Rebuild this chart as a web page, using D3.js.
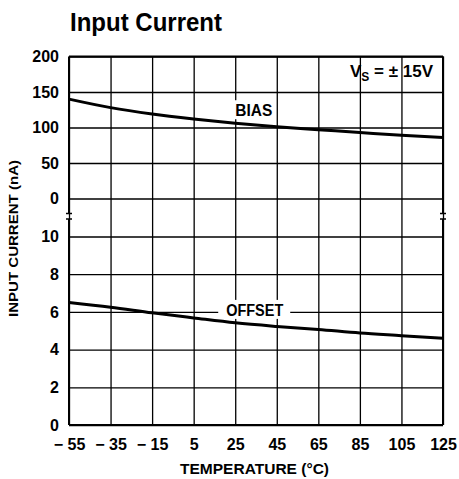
<!DOCTYPE html>
<html>
<head>
<meta charset="utf-8">
<script src="https://cdn.jsdelivr.net/npm/d3@7"></script>
<style>
  body { margin: 0; background: #fff; }
  svg { display: block; font-family: "Liberation Sans", Arial, sans-serif; font-weight: bold; }
</style>
</head>
<body>
<div id="chart"></div>
<script>
// Chart data
var temps = [-55, -35, -15, 5, 25, 45, 65, 85, 105, 125];
var biasNA = [140, 128, 119, 112, 106, 101, 97, 93, 89, 86];
var offsetNA = [6.5, 6.25, 5.95, 5.68, 5.42, 5.23, 5.07, 4.88, 4.74, 4.6];
var upperTicks = [0, 50, 100, 150, 200];
var lowerTicks = [0, 2, 4, 6, 8, 10];

var svgWidth = 459;
var svgHeight = 479;

// plot box
var left = 69, right = 443;
var upperTop = 56.5, upperBottom = 198.5;
var lowerTop = 236.5, lowerBottom = 425;
var breakY = [213.5, 219];

var svg = d3.select("#chart")
  .append("svg")
  .attr("width", svgWidth)
  .attr("height", svgHeight);

// scales
var x = d3.scaleLinear().domain([-55, 125]).range([left, right]);
var yUpper = d3.scaleLinear().domain([0, 200]).range([upperBottom, upperTop]);
var yLower = d3.scaleLinear().domain([0, 10]).range([lowerBottom, lowerTop]);

// title
svg.append("text")
  .attr("x", 70)
  .attr("y", 31)
  .attr("font-size", 26)
  .attr("textLength", 152)
  .attr("lengthAdjust", "spacingAndGlyphs")
  .text("Input Current");

// x axis + vertical grid
var xAxis = d3.axisBottom(x)
  .tickValues(temps)
  .tickSizeInner(-(lowerBottom - upperTop))
  .tickSizeOuter(0)
  .tickPadding(14)
  .tickFormat(d => d < 0 ? "\u2212 " + Math.abs(d) : d);

var xg = svg.append("g")
  .attr("transform", `translate(0, ${lowerBottom})`)
  .call(xAxis);

// upper y axis + grid
var yUpperAxis = d3.axisLeft(yUpper)
  .tickValues(upperTicks)
  .tickSizeInner(-(right - left))
  .tickSizeOuter(0)
  .tickPadding(10);

var yug = svg.append("g")
  .attr("transform", `translate(${left}, 0)`)
  .call(yUpperAxis);

// lower y axis + grid
var yLowerAxis = d3.axisLeft(yLower)
  .tickValues(lowerTicks)
  .tickSizeInner(-(right - left))
  .tickSizeOuter(0)
  .tickPadding(10);

var ylg = svg.append("g")
  .attr("transform", `translate(${left}, 0)`)
  .call(yLowerAxis);

[xg, yug, ylg].forEach(function(g) {
  g.select(".domain").remove();
  g.selectAll(".tick line").attr("stroke", "#000").attr("stroke-width", 1.3);
  g.selectAll(".tick text")
    .attr("fill", "#000")
    .attr("font-size", 16)
    .attr("font-family", "'Liberation Sans', Arial, sans-serif")
    .attr("font-weight", "bold");
});

// frame, with breaks on left and right sides
var frame = svg.append("g")
  .attr("stroke", "#000")
  .attr("stroke-width", 2)
  .attr("fill", "none");

frame.append("line").attr("x1", left).attr("x2", right).attr("y1", upperTop).attr("y2", upperTop);
frame.append("line").attr("x1", left).attr("x2", right).attr("y1", lowerBottom).attr("y2", lowerBottom);
[left, right].forEach(function(xx) {
  frame.append("line").attr("x1", xx).attr("x2", xx).attr("y1", upperTop).attr("y2", breakY[0]);
  frame.append("line").attr("x1", xx).attr("x2", xx).attr("y1", breakY[1]).attr("y2", lowerBottom);
  frame.append("line").attr("x1", xx - 3).attr("x2", xx + 3).attr("y1", breakY[0]).attr("y2", breakY[0]).attr("stroke-width", 1.5);
  frame.append("line").attr("x1", xx - 3).attr("x2", xx + 3).attr("y1", breakY[1]).attr("y2", breakY[1]).attr("stroke-width", 1.5);
});

// white boxes behind curve labels
svg.append("rect")
  .attr("x", x(25) - 2).attr("y", yUpper(biasNA[4]) - 23)
  .attr("width", 41).attr("height", 19)
  .attr("fill", "#fff");
svg.append("rect")
  .attr("x", x(25) - 17).attr("y", yLower(6) - 12)
  .attr("width", 72).attr("height", 19)
  .attr("fill", "#fff");

// curves
var biasLine = d3.line()
  .x((d, i) => x(temps[i]))
  .y(d => yUpper(d))
  .curve(d3.curveMonotoneX);

var offsetLine = d3.line()
  .x((d, i) => x(temps[i]))
  .y(d => yLower(d))
  .curve(d3.curveMonotoneX);

svg.append("path")
  .datum(biasNA)
  .attr("d", biasLine)
  .attr("fill", "none")
  .attr("stroke", "#000")
  .attr("stroke-width", 3);

svg.append("path")
  .datum(offsetNA)
  .attr("d", offsetLine)
  .attr("fill", "none")
  .attr("stroke", "#000")
  .attr("stroke-width", 3);

// curve labels
svg.append("text")
  .attr("x", x(25))
  .attr("y", yUpper(biasNA[4]) - 7)
  .attr("font-size", 16)
  .attr("textLength", 37)
  .attr("lengthAdjust", "spacingAndGlyphs")
  .text("BIAS");

svg.append("text")
  .attr("x", x(25) - 9)
  .attr("y", yLower(6) + 4.5)
  .attr("font-size", 16)
  .attr("textLength", 57)
  .attr("lengthAdjust", "spacingAndGlyphs")
  .text("OFFSET");

// supply condition
var vs = svg.append("text")
  .attr("x", x(125) - 10)
  .attr("y", yUpper(200) + 20.5)
  .attr("font-size", 17)
  .attr("text-anchor", "end");
vs.append("tspan").text("V");
vs.append("tspan").attr("font-size", 12).attr("dy", 4).text("S");
vs.append("tspan").attr("dy", -4).text(" = \u00b1 15V");

// axis titles
svg.append("text")
  .attr("x", 254.5)
  .attr("y", 474)
  .attr("font-size", 15)
  .attr("text-anchor", "middle")
  .attr("textLength", 149)
  .attr("lengthAdjust", "spacingAndGlyphs")
  .text("TEMPERATURE (\u00b0C)");

svg.append("text")
  .attr("transform", "translate(18, 238.5) rotate(-90)")
  .attr("font-size", 12)
  .attr("text-anchor", "middle")
  .attr("textLength", 157)
  .attr("lengthAdjust", "spacingAndGlyphs")
  .text("INPUT CURRENT (nA)");
</script>
</body>
</html>
